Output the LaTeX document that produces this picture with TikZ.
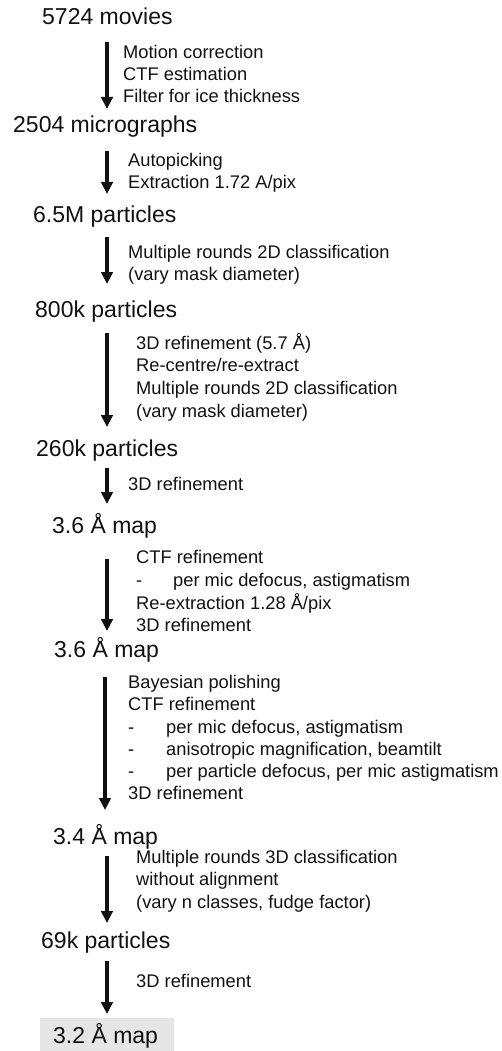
\documentclass[tikz,border=0pt]{standalone}
\usepackage{fontspec}
\setmainfont{Liberation Sans}
\usetikzlibrary{arrows.meta}
\definecolor{boxgray}{HTML}{E6E6E6}
\definecolor{ink}{HTML}{111111}
\tikzset{
  head/.style={anchor=base west, inner sep=0pt, text=ink, font=\fontsize{23}{27}\selectfont},
  txt/.style={anchor=base west, inner sep=0pt, text=ink, font=\fontsize{18.3}{22}\selectfont},
  arr/.style={draw=ink, line width=3.2pt, -{Triangle[length=12pt,width=11.5pt]}},
}
\newcommand{\dashitem}[2]{\makebox[#1][l]{-}#2}
\begin{document}
\begin{tikzpicture}[x=1pt,y=-1pt]
\useasboundingbox (0,0) rectangle (501,1051);
\fill[boxgray] (40,1018) rectangle (174,1051);

% headings
\node[head] (h1) at (42,25) {5724 movies};
\node[head] (h2) at (13,133) {2504 micrographs};
\node[head] (h3) at (33,222) {6.5M particles};
\node[head] (h4) at (35,317) {800k particles};
\node[head] (h5) at (36,456) {260k particles};
\node[head] (h6) at (52,533) {3.6 Å map};
\node[head] (h7) at (54,657) {3.6 Å map};
\node[head] (h8) at (53,844) {3.4 Å map};
\node[head] (h9) at (41,948) {69k particles};
\node[head] (h10) at (53,1043) {3.2 Å map};

% step labels
\node[txt] (l1a) at (123,59) {Motion correction};
\node[txt] (l1b) at (123,81) {CTF estimation};
\node[txt] (l1c) at (123,103) {Filter for ice thickness};

\node[txt] (l2a) at (128,167) {Autopicking};
\node[txt] (l2b) at (128,189) {Extraction 1.72 A/pix};

\node[txt] (l3a) at (128,258) {Multiple rounds 2D classification};
\node[txt] (l3b) at (128,280) {(vary mask diameter)};

\node[txt] (l4a) at (136,349) {3D refinement (5.7 Å)};
\node[txt] (l4b) at (136,371) {Re-centre/re-extract};
\node[txt] (l4c) at (136,394) {Multiple rounds 2D classification};
\node[txt] (l4d) at (136,417) {(vary mask diameter)};

\node[txt] (l5a) at (128,490) {3D refinement};

\node[txt] (l6a) at (136,563) {CTF refinement};
\node[txt] (l6b) at (136,586) {\dashitem{37pt}{per mic defocus, astigmatism}};
\node[txt] (l6c) at (136,609) {Re-extraction 1.28 Å/pix};
\node[txt] (l6d) at (136,631) {3D refinement};

\node[txt] (l7a) at (128,688) {Bayesian polishing};
\node[txt] (l7b) at (128,710) {CTF refinement};
\node[txt] (l7c) at (128,733) {\dashitem{38pt}{per mic defocus, astigmatism}};
\node[txt] (l7d) at (128,755) {\dashitem{38pt}{anisotropic magnification, beamtilt}};
\node[txt] (l7e) at (128,777) {\dashitem{38pt}{per particle defocus, per mic astigmatism}};
\node[txt] (l7f) at (128,799) {3D refinement};

\node[txt] (l8a) at (136,863) {Multiple rounds 3D classification};
\node[txt] (l8b) at (136,885) {without alignment};
\node[txt] (l8c) at (136,908) {(vary n classes, fudge factor)};

\node[txt] (l9a) at (136,987) {3D refinement};

% arrow end points
\coordinate (s1) at (107,42);  \coordinate (e1) at (107,109);
\coordinate (s2) at (107,151); \coordinate (e2) at (107,194);
\coordinate (s3) at (107,237); \coordinate (e3) at (107,284);
\coordinate (s4) at (107,333); \coordinate (e4) at (107,427);
\coordinate (s5) at (107,468); \coordinate (e5) at (107,504);
\coordinate (s6) at (107,559); \coordinate (e6) at (107,631);
\coordinate (s7) at (105,677); \coordinate (e7) at (105,810);
\coordinate (s8) at (107,856); \coordinate (e8) at (107,923);
\coordinate (s9) at (107,961); \coordinate (e9) at (107,1014);

\draw[arr] (s1) -- (e1);
\draw[arr] (s2) -- (e2);
\draw[arr] (s3) -- (e3);
\draw[arr] (s4) -- (e4);
\draw[arr] (s5) -- (e5);
\draw[arr] (s6) -- (e6);
\draw[arr] (s7) -- (e7);
\draw[arr] (s8) -- (e8);
\draw[arr] (s9) -- (e9);
\end{tikzpicture}
\end{document}
